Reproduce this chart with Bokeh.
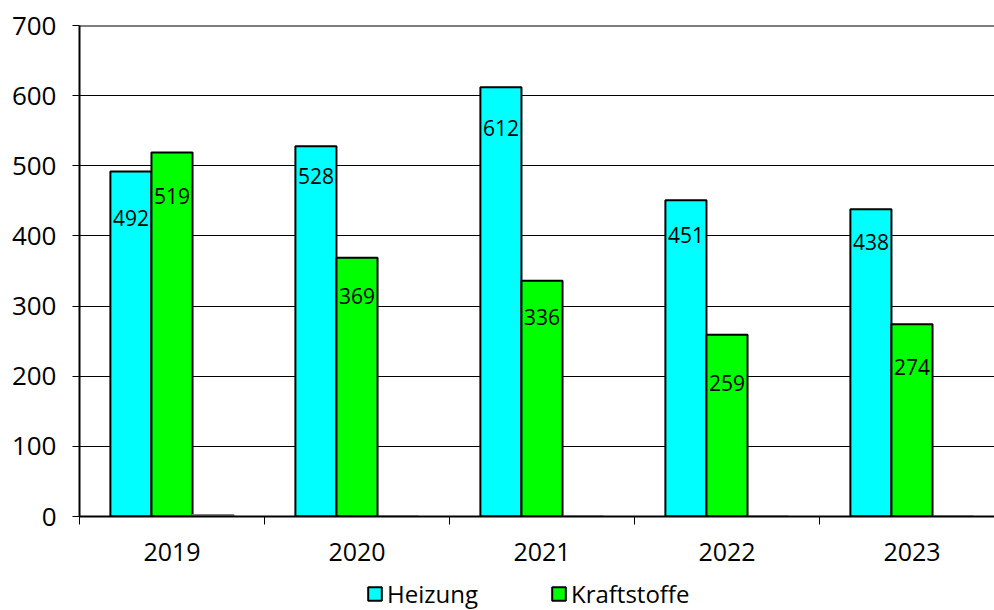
from bokeh.plotting import figure
from bokeh.layouts import column
from bokeh.models import ColumnDataSource, FixedTicker, Span, LabelSet, Legend, LegendItem, Range1d
from bokeh.core.properties import value
from bokeh.embed import file_html
from bokeh.resources import INLINE

years = ["2019", "2020", "2021", "2022", "2023"]
heizung = [492, 528, 612, 451, 438]
kraftstoffe = [519, 369, 336, 259, 274]
sonstige = [2, 0, 0, 0, 0]
y_ticks = [0, 100, 200, 300, 400, 500, 600, 700]
series_names = ["Heizung", "Kraftstoffe"]

# styling: pixel offsets of the value labels below bar tops
heiz_label_dy = [47, 30, 41, 35, 33]
kraft_label_dy = [44, 38, 36, 48, 43]

FONT = "Open Sans"
CYAN = "#00FFFF"
GREEN = "#00FF00"
bar_w = 0.222
pos = [i + 0.5 for i in range(len(years))]

p = figure(width=994, height=570, output_backend="svg", toolbar_location=None,
           x_range=Range1d(0, 4.946), y_range=Range1d(0, 700),
           min_border_left=79, min_border_top=25, min_border_right=0, min_border_bottom=54)
p.outline_line_color = None
p.background_fill_color = "white"
p.border_fill_color = "white"

src_h = ColumnDataSource(dict(x=[c - bar_w for c in pos], top=heizung,
                              lbl=[str(v) for v in heizung], dy=[-d for d in heiz_label_dy]))
src_k = ColumnDataSource(dict(x=pos, top=kraftstoffe,
                              lbl=[str(v) for v in kraftstoffe], dy=[-d for d in kraft_label_dy]))
src_s = ColumnDataSource(dict(x=[c + bar_w for c in pos], top=sonstige))

p.vbar(x="x", top="top", bottom=0, width=bar_w, source=src_h,
       fill_color=CYAN, line_color="black", line_width=2)
p.vbar(x="x", top="top", bottom=0, width=bar_w, source=src_k,
       fill_color=GREEN, line_color="black", line_width=2)
p.vbar(x="x", top="top", bottom=0, width=bar_w, source=src_s,
       fill_color="white", line_color="#808080", line_width=2)

for src in (src_h, src_k):
    p.add_layout(LabelSet(x="x", y="top", text="lbl", y_offset="dy", source=src,
                          text_align="center", text_baseline="middle",
                          text_font=value(FONT), text_font_size="21px", text_color="black"))

p.add_layout(Span(location=700, dimension="width", line_color="black", line_width=2))

# grid
p.xgrid.grid_line_color = None
p.ygrid.ticker = FixedTicker(ticks=y_ticks)
p.ygrid.grid_line_color = "black"
p.ygrid.grid_line_width = 1

# y axis
p.yaxis.ticker = FixedTicker(ticks=y_ticks)
p.yaxis.axis_line_color = "black"
p.yaxis.axis_line_width = 2
p.yaxis.major_tick_out = 7
p.yaxis.major_tick_in = 0
p.yaxis.major_tick_line_color = "black"
p.yaxis.minor_tick_line_color = None
p.yaxis.major_label_text_font = FONT
p.yaxis.major_label_text_font_size = "26px"
p.yaxis.major_label_text_color = "black"
p.yaxis.major_label_standoff = 16

# x axis
p.xaxis.ticker = FixedTicker(ticks=pos, minor_ticks=[0, 1, 2, 3, 4, 5])
p.xaxis.major_label_overrides = {c: y for c, y in zip(pos, years)}
p.xaxis.major_tick_line_color = None
p.xaxis.minor_tick_line_color = "black"
p.xaxis.minor_tick_out = 8
p.xaxis.minor_tick_in = 0
p.xaxis.axis_line_color = "black"
p.xaxis.axis_line_width = 2
p.xaxis.major_label_text_font = FONT
p.xaxis.major_label_text_font_size = "25px"
p.xaxis.major_label_text_color = "black"
p.xaxis.major_label_standoff = 18

# legend strip
lg = figure(width=994, height=40, output_backend="svg", toolbar_location=None,
            x_range=Range1d(0, 1), y_range=Range1d(0, 1),
            min_border_left=0, min_border_top=0, min_border_right=0, min_border_bottom=0)
lg.axis.visible = False
lg.grid.visible = False
lg.outline_line_color = None
lh = lg.vbar(x=[5], top=[0], width=0.1, fill_color=CYAN, line_color="black", line_width=2)
lk = lg.vbar(x=[5], top=[0], width=0.1, fill_color=GREEN, line_color="black", line_width=2)
legend = Legend(items=[LegendItem(label=series_names[0], renderers=[lh]),
                       LegendItem(label=series_names[1], renderers=[lk])],
                orientation="horizontal", location=(287, 0),
                glyph_width=17, glyph_height=17, label_standoff=4, spacing=72,
                label_text_font=FONT, label_text_font_size="24px", label_text_color="black",
                border_line_color=None, background_fill_alpha=0, padding=0, margin=0)
lg.add_layout(legend, "center")

layout = column(p, lg, spacing=0)
open("out.html", "w").write(file_html(layout, INLINE))
